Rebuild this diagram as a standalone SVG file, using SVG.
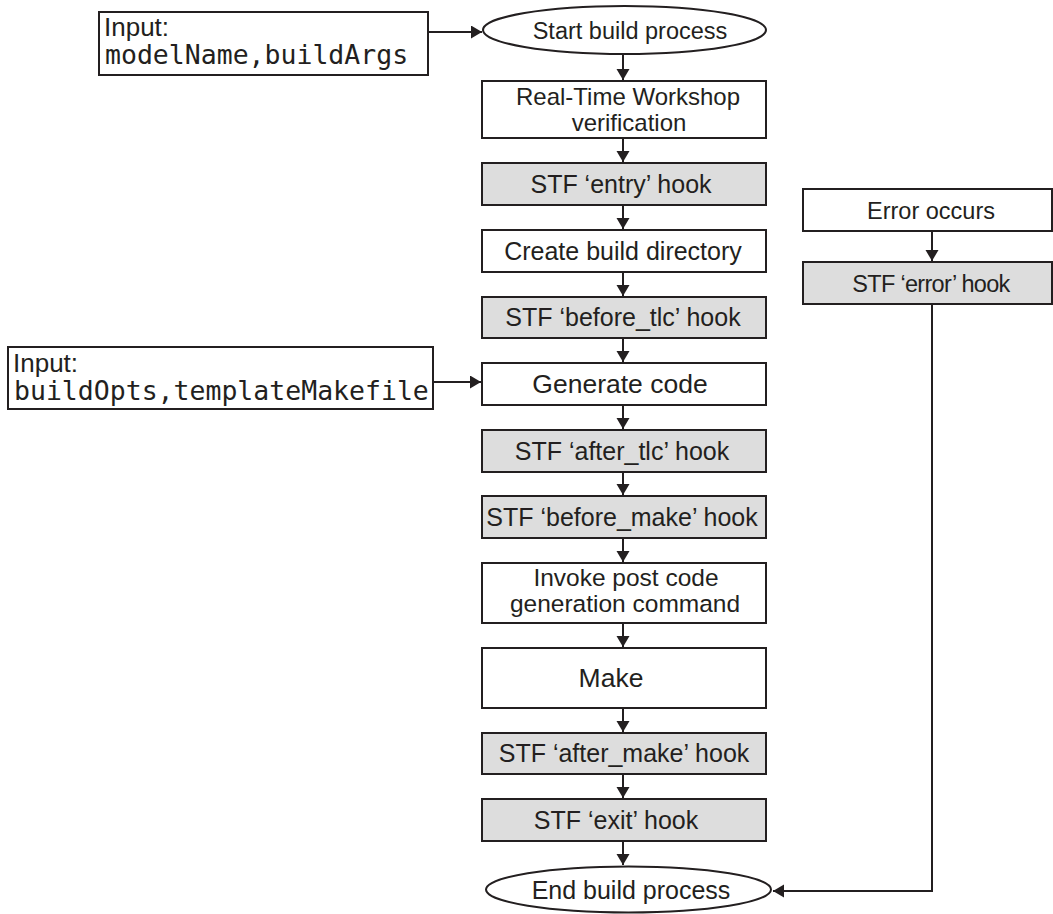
<svg xmlns="http://www.w3.org/2000/svg" width="1053" height="914" viewBox="0 0 1053 914">
<style>
.b{fill:#ffffff;stroke:#231f20;stroke-width:2}
.g{fill:#dddddd;stroke:#231f20;stroke-width:2}
.t{font-family:"Liberation Sans",Arial,sans-serif;font-size:25px;fill:#231f20;text-anchor:middle}
.l{font-family:"Liberation Sans",Arial,sans-serif;font-size:26px;fill:#231f20}
.m{font-family:"DejaVu Sans Mono","Liberation Mono",monospace;font-size:26.5px;fill:#231f20}
.c{fill:none;stroke:#231f20;stroke-width:2}
</style>
<defs>
<marker id="ah" markerUnits="userSpaceOnUse" markerWidth="12" markerHeight="14" refX="11" refY="6.5" orient="auto">
<path d="M0,0 L11,6.5 L0,13 z" fill="#231f20"/>
</marker>
</defs>
<g id="connectors">
<line class="c" x1="428" y1="32" x2="482" y2="32" marker-end="url(#ah)"/>
<line class="c" x1="433" y1="382" x2="481" y2="382" marker-end="url(#ah)"/>
<line class="c" x1="623" y1="54" x2="623" y2="80" marker-end="url(#ah)"/>
<line class="c" x1="623" y1="138" x2="623" y2="162" marker-end="url(#ah)"/>
<line class="c" x1="623" y1="205" x2="623" y2="229" marker-end="url(#ah)"/>
<line class="c" x1="623" y1="272" x2="623" y2="296" marker-end="url(#ah)"/>
<line class="c" x1="623" y1="338" x2="623" y2="362" marker-end="url(#ah)"/>
<line class="c" x1="623" y1="405" x2="623" y2="429" marker-end="url(#ah)"/>
<line class="c" x1="623" y1="472" x2="623" y2="495" marker-end="url(#ah)"/>
<line class="c" x1="623" y1="538" x2="623" y2="562" marker-end="url(#ah)"/>
<line class="c" x1="623" y1="623" x2="623" y2="647" marker-end="url(#ah)"/>
<line class="c" x1="623" y1="708" x2="623" y2="732" marker-end="url(#ah)"/>
<line class="c" x1="623" y1="774" x2="623" y2="798" marker-end="url(#ah)"/>
<line class="c" x1="623" y1="841" x2="623" y2="865" marker-end="url(#ah)"/>
<line class="c" x1="932" y1="231" x2="932" y2="261" marker-end="url(#ah)"/>
<polyline class="c" points="932,304 932,891 773,891" marker-end="url(#ah)"/>
</g>
<g id="input1">
<rect class="b" x="99" y="12" width="329" height="63"/>
<text class="l" x="104" y="36">Input:</text>
<text class="m" x="105" y="64">modelName,buildArgs</text>
</g>
<g id="start">
<ellipse class="b" cx="624.5" cy="30" rx="141.5" ry="24"/>
<text class="t" x="630" y="39" style="font-size:23.5px">Start build process</text>
</g>
<g id="rtw">
<rect class="b" x="482" y="81" width="284" height="57"/>
<text class="t" x="628" y="105" style="font-size:24px">Real-Time Workshop</text>
<text class="t" x="629" y="131" style="font-size:24px">verification</text>
</g>
<g id="entry">
<rect class="g" x="482" y="163" width="284" height="42"/>
<text class="t" x="621" y="193">STF ‘entry’ hook</text>
</g>
<g id="createdir">
<rect class="b" x="482" y="230" width="284" height="42"/>
<text class="t" x="623" y="260">Create build directory</text>
</g>
<g id="beforetlc">
<rect class="g" x="482" y="297" width="284" height="41"/>
<text class="t" x="623" y="326">STF ‘before_tlc’ hook</text>
</g>
<g id="input2">
<rect class="b" x="8" y="347" width="425" height="62"/>
<text class="l" x="13" y="372">Input:</text>
<text class="m" x="14" y="400">buildOpts,templateMakefile</text>
</g>
<g id="gencode">
<rect class="b" x="482" y="363" width="284" height="42"/>
<text class="t" x="620" y="393" style="font-size:26.5px">Generate code</text>
</g>
<g id="aftertlc">
<rect class="g" x="482" y="430" width="284" height="42"/>
<text class="t" x="622" y="460">STF ‘after_tlc’ hook</text>
</g>
<g id="beforemake">
<rect class="g" x="482" y="496" width="284" height="42"/>
<text class="t" x="622" y="526">STF ‘before_make’ hook</text>
</g>
<g id="postcode">
<rect class="b" x="482" y="563" width="284" height="60"/>
<text class="t" x="626" y="586" style="font-size:24.5px">Invoke post code</text>
<text class="t" x="625" y="612" style="font-size:24.5px">generation command</text>
</g>
<g id="make">
<rect class="b" x="482" y="648" width="284" height="60"/>
<text class="t" x="611" y="687" style="font-size:26.5px">Make</text>
</g>
<g id="aftermake">
<rect class="g" x="482" y="733" width="284" height="41"/>
<text class="t" x="624" y="762">STF ‘after_make’ hook</text>
</g>
<g id="exit">
<rect class="g" x="482" y="799" width="284" height="42"/>
<text class="t" x="616" y="829">STF ‘exit’ hook</text>
</g>
<g id="end">
<ellipse class="b" cx="628.5" cy="889.5" rx="142.5" ry="23"/>
<text class="t" x="631" y="899">End build process</text>
</g>
<g id="error">
<rect class="b" x="803" y="189" width="249" height="42"/>
<text class="t" x="931" y="219" style="font-size:23.5px">Error occurs</text>
</g>
<g id="errorhook">
<rect class="g" x="803" y="262" width="249" height="42"/>
<text class="t" x="931" y="292" style="font-size:23.5px;letter-spacing:-0.7px">STF ‘error’ hook</text>
</g>
</svg>
